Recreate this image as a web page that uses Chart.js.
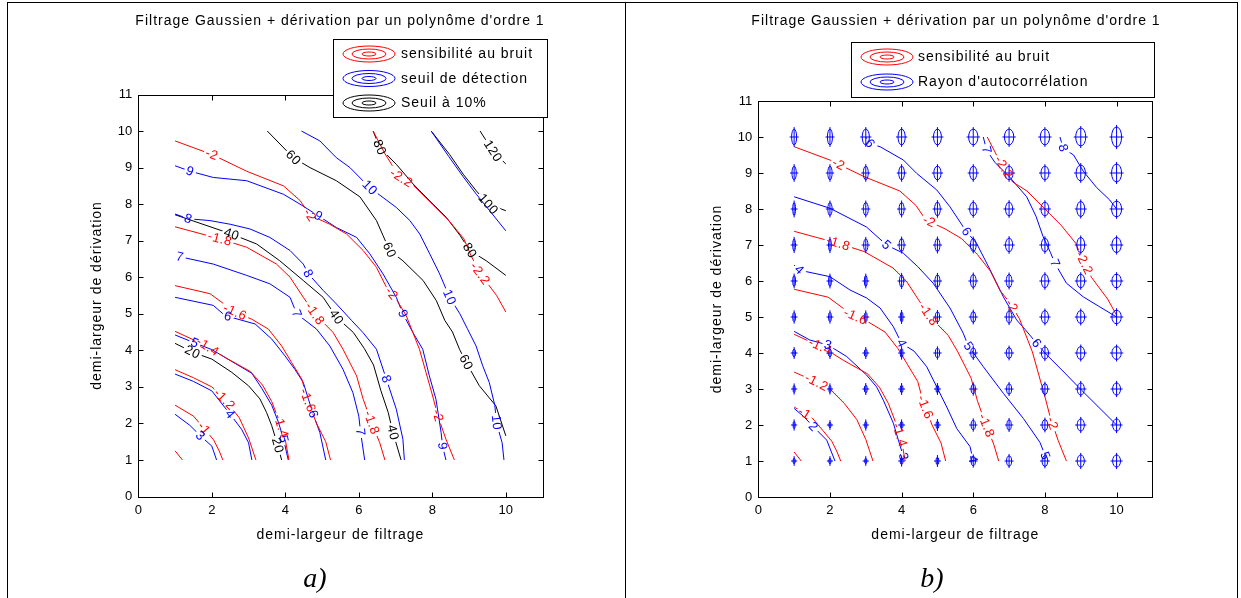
<!DOCTYPE html>
<html><head><meta charset="utf-8">
<script src="https://cdn.jsdelivr.net/npm/chart.js@4.4.1/dist/chart.umd.min.js"></script>
<style>
html,body{margin:0;padding:0;background:#fff;}
body{width:1241px;height:598px;position:relative;overflow:hidden;}
canvas{position:absolute;top:0;}
.rule{position:absolute;background:#000;}
.cap{position:absolute;font-family:"Liberation Serif","Times New Roman",serif;font-style:italic;font-size:28px;transform:translate(-50%,-50%);white-space:nowrap;}
</style></head><body>
<div class="rule" style="left:7px;top:2px;width:1231px;height:1px"></div>
<div class="rule" style="left:7px;top:2px;width:1px;height:596px"></div>
<div class="rule" style="left:625px;top:2px;width:1px;height:596px"></div>
<div class="rule" style="left:1237px;top:2px;width:1px;height:596px"></div>
<canvas id="cA" width="620" height="598" style="left:0"></canvas>
<canvas id="cB" width="621" height="598" style="left:620px"></canvas>
<div class="cap" style="left:315px;top:578px">a)</div>
<div class="cap" style="left:932px;top:578px">b)</div>
<script>
// ---------- ticks ----------
const xTicks = [0, 2, 4, 6, 8, 10];
const yTicks = [0, 1, 2, 3, 4, 5, 6, 7, 8, 9, 10, 11];
const gridX = [1, 2, 3, 4, 5, 6, 7, 8, 9, 10];
const gridY = [1, 2, 3, 4, 5, 6, 7, 8, 9, 10];

// ---------- sensibilité au bruit (red, both plots) ----------
const sensLevels = [-0.8, -1, -1.2, -1.4, -1.6, -1.8, -2, -2.2];
const sensM08 = [[1,1.25],[1.2,1.0]];
const sensM10 = [[1,2.5],[1.5,2.2],[1.8,1.85],[2.05,1.55],[2.2,1.25],[2.3,1.0]];
const sensM12 = [[1,3.47],[1.5,3.25],[2.0,3.0],[2.4,2.6],[2.75,2.15],[3.0,1.6],[3.1,1.3],[3.2,1.0]];
const sensM14 = [[1,4.52],[1.86,4.12],[2.37,3.8],[3.05,3.42],[3.38,3.05],[3.63,2.6],[3.88,1.95],[4.0,1.55],[4.1,1.0]];
const sensM16 = [[1,5.77],[1.95,5.55],[2.63,5.05],[3.09,4.85],[3.54,4.58],[3.9,4.12],[4.17,3.67],[4.45,3.21],[4.6,2.65],[4.85,2.0],[5.1,1.5],[5.23,1.0]];
const sensM18 = [[1,7.38],[2.22,7.05],[2.95,6.82],[3.76,6.36],[4.13,6.0],[4.49,5.45],[4.8,5.0],[5.3,4.49],[5.57,4.03],[5.94,3.3],[6.12,2.66],[6.35,2.02],[6.57,1.47],[6.71,1.0]];
const sensM20 = [[1,9.73],[2.0,9.36],[2.95,8.9],[3.95,8.5],[4.4,8.1],[4.67,7.7],[5.21,7.45],[5.67,7.18],[6.12,6.73],[6.48,6.27],[6.75,5.73],[7.02,5.4],[7.29,4.95],[7.65,4.03],[7.83,3.39],[8.01,2.75],[8.15,2.21],[8.37,1.57],[8.6,1.0]];
const sensM22 = [[6.39,10],[6.7,9.4],[7.1,8.75],[7.5,8.5],[8.0,8.0],[8.45,7.55],[8.86,7.05],[9.05,6.6],[9.3,6.1],[9.75,5.5],[10,5.05]];
const sensLines = [sensM08, sensM10, sensM12, sensM14, sensM16, sensM18, sensM20, sensM22];

// ---------- seuil de détection (blue, plot a) ----------
const detLevels = [3, 4, 5, 6, 7, 8, 9, 10, 11];
const det3 = [[1,2.25],[1.4,1.95],[1.7,1.65],[2.0,1.38],[2.13,1.0]];
const det4 = [[1,3.35],[1.5,3.15],[2.0,2.89],[2.5,2.25],[2.81,1.84],[3.0,1.47],[3.09,1.0]];
const det5 = [[1,4.42],[1.54,4.2],[2.0,4.02],[3.09,3.37],[3.36,2.96],[3.63,2.5],[3.81,2.04],[3.95,1.58],[4.08,1.0]];
const det6 = [[1,5.45],[2.04,5.23],[2.36,4.95],[3.18,4.72],[3.63,4.31],[3.99,3.85],[4.26,3.48],[4.49,3.12],[4.63,2.66],[4.76,2.25],[4.94,1.75],[5.1,1.0]];
const det7 = [[1,6.59],[2.04,6.36],[2.95,6.05],[3.58,5.82],[4.13,5.45],[4.31,5.0],[4.85,4.58],[5.21,4.12],[5.57,3.48],[5.84,2.84],[6.0,2.2],[6.05,1.75],[6.16,1.0]];
const det8 = [[1,7.73],[1.36,7.6],[1.95,7.55],[2.5,7.45],[3.04,7.32],[3.58,7.09],[4.13,6.73],[4.49,6.36],[4.62,6.1],[5.03,5.64],[5.39,5.27],[5.8,4.82],[6.11,4.49],[6.48,4.03],[6.75,3.21],[7.02,2.39],[7.2,1.57],[7.24,1.0]];
const det9 = [[1,9.05],[1.41,8.9],[2.04,8.73],[2.95,8.64],[3.95,8.27],[4.4,8.0],[4.9,7.68],[5.39,7.36],[5.94,7.09],[6.3,6.64],[6.66,6.09],[7.02,5.45],[7.2,5.0],[7.47,4.49],[7.74,4.03],[7.92,3.3],[8.1,2.66],[8.24,1.75],[8.28,1.38],[8.37,1.0]];
const det10 = [[4.44,10],[4.94,9.73],[5.39,9.27],[5.76,9.0],[6.3,8.45],[6.66,8.18],[7.02,7.91],[7.39,7.55],[7.66,7.18],[7.93,6.64],[8.2,6.09],[8.47,5.45],[8.75,5.0],[8.95,4.6],[9.19,4.12],[9.37,3.58],[9.55,3.12],[9.7,2.5],[9.75,2.0],[9.9,1.47],[9.95,1.0]];
const det11 = [[7.97,10],[8.45,9.3],[8.84,8.75],[9.2,8.27],[9.56,7.82],[10,7.27]];
const detLines = [det3, det4, det5, det6, det7, det8, det9, det10, det11];

// ---------- seuil à 10% (black, plot a) ----------
const thrLevels = [20, 40, 60, 80, 100, 120];
const thr20 = [[1,4.19],[1.5,3.94],[2.0,3.76],[2.54,3.4],[3.0,3.03],[3.31,2.67],[3.49,2.3],[3.63,1.94],[3.77,1.48],[3.9,1.0]];
const thr40 = [[1,7.71],[2.54,7.18],[3.22,6.91],[3.85,6.45],[4.49,5.91],[5.03,5.45],[5.39,4.91],[5.85,4.49],[6.15,4.05],[6.4,3.6],[6.6,2.9],[6.8,2.3],[6.93,1.75],[7.15,1.0]];
const thr60 = [[3.51,10],[4.22,9.27],[4.67,9.0],[5.39,8.64],[6.03,8.2],[6.48,7.55],[6.66,7.14],[6.84,6.73],[7.2,6.45],[7.75,5.91],[8.11,5.36],[8.34,4.82],[8.55,4.5],[8.74,4.03],[8.92,3.67],[9.28,3.03],[9.73,2.48],[10,1.66]];
const thr80 = [[6.39,10],[6.57,9.55],[7.02,9.09],[7.48,8.55],[7.93,8.09],[8.38,7.64],[8.75,7.15],[9.02,6.73],[9.47,6.45],[10,6.05]];
const thr100 = [[7.97,10],[8.47,9.36],[8.84,8.82],[9.2,8.36],[9.52,8.0],[10,7.82]];
const thr120 = [[9.3,10],[9.65,9.45],[10,9.1]];
const thrLines = [thr20, thr40, thr60, thr80, thr100, thr120];

// ---------- rayon d'autocorrélation (blue, plot b) ----------
const acLevels = [2, 3, 4, 5, 6, 7, 8];
const ac2 = [[1,2.46],[1.25,2.25],[1.54,1.95],[1.91,1.58],[2.14,1.0]];
const ac3 = [[1,4.6],[1.44,4.36],[1.95,4.22],[2.47,3.9],[3.02,3.39],[3.3,3.06],[3.49,2.69],[3.77,2.05],[3.91,1.58],[4.05,1.12],[4.08,1.0]];
const ac4 = [[1,6.44],[1.15,6.3],[2.0,6.12],[2.56,5.75],[3.02,5.53],[3.4,5.25],[3.77,4.73],[4.0,4.27],[4.35,4.05],[4.7,3.62],[4.98,3.06],[5.26,2.5],[5.54,1.9],[5.91,1.4],[6.0,1.0]];
const ac5 = [[1,8.34],[2.0,8.02],[3.02,7.5],[3.58,7.0],[4.05,6.77],[4.45,6.4],[4.88,5.94],[5.35,5.25],[5.72,4.55],[5.86,4.2],[6.28,3.62],[6.84,2.88],[7.4,2.18],[7.86,1.52],[8.02,1.12],[8.05,1.0]];
const ac6 = [[3.0,10],[3.12,9.82],[3.4,9.73],[4.05,9.36],[4.42,8.99],[4.98,8.53],[5.35,8.06],[5.81,7.37],[6.09,7.05],[6.47,6.31],[6.84,5.56],[7.21,4.92],[7.45,4.65],[7.77,4.27],[8.0,4.0],[8.5,3.5],[9.02,2.97],[10,2.0]];
const ac7 = [[6.28,10],[6.37,9.64],[6.6,9.3],[7.02,8.88],[7.49,8.34],[7.75,7.8],[7.95,7.23],[8.15,6.8],[8.28,6.49],[8.6,5.94],[9.07,5.56],[9.5,5.3],[10,5.0]];
const ac8 = [[8.42,10],[8.51,9.69],[8.8,9.5],[9.07,9.05],[9.44,8.6],[9.81,8.25],[10,8.0]];
const acLines = [ac2, ac3, ac4, ac5, ac6, ac7, ac8];

// autocorrelation radii at grid points (data units), rows y=1..10, columns x=1..10
const autoRx = [
 [0.03,0.03,0.03,0.04,0.04,0.06,0.07,0.08,0.10,0.11],
 [0.03,0.03,0.03,0.04,0.04,0.06,0.06,0.08,0.10,0.11],
 [0.03,0.03,0.04,0.04,0.04,0.06,0.07,0.08,0.10,0.11],
 [0.04,0.04,0.04,0.04,0.06,0.07,0.08,0.10,0.11,0.13],
 [0.04,0.04,0.04,0.04,0.06,0.07,0.08,0.10,0.11,0.13],
 [0.04,0.04,0.04,0.06,0.07,0.08,0.08,0.10,0.11,0.13],
 [0.04,0.04,0.06,0.07,0.07,0.08,0.10,0.10,0.11,0.13],
 [0.04,0.06,0.07,0.07,0.08,0.10,0.10,0.11,0.11,0.14],
 [0.06,0.06,0.07,0.08,0.10,0.10,0.11,0.11,0.13,0.14],
 [0.07,0.07,0.10,0.10,0.11,0.13,0.13,0.13,0.14,0.14]];
const autoRy = [
 [0.08,0.08,0.08,0.10,0.11,0.13,0.14,0.15,0.17,0.17],
 [0.10,0.08,0.10,0.10,0.11,0.13,0.14,0.15,0.17,0.17],
 [0.10,0.10,0.11,0.11,0.11,0.13,0.14,0.15,0.17,0.17],
 [0.11,0.11,0.11,0.13,0.13,0.14,0.15,0.17,0.18,0.18],
 [0.13,0.13,0.13,0.14,0.14,0.15,0.17,0.18,0.18,0.19],
 [0.15,0.15,0.15,0.17,0.17,0.18,0.18,0.19,0.19,0.19],
 [0.17,0.17,0.17,0.18,0.18,0.18,0.19,0.19,0.21,0.21],
 [0.18,0.18,0.18,0.18,0.19,0.19,0.19,0.19,0.21,0.22],
 [0.19,0.19,0.19,0.19,0.19,0.19,0.19,0.19,0.22,0.25],
 [0.22,0.22,0.22,0.22,0.22,0.22,0.22,0.22,0.25,0.28]];

// ---------- contour label positions [level, x, y] ----------
const sensLabelsA = [[-1,1.77,1.84],[-1.2,2.22,2.53],[-1.4,1.9,4.12],[-1.4,3.8,1.9],[-1.6,2.63,5.04],[-1.6,4.58,2.62],[-1.8,2.22,7.05],[-1.8,4.8,5.0],[-1.8,6.35,2.02],[-2,2.0,9.36],[-2,4.67,7.7],[-2,6.89,5.55],[-2,8.15,2.21],[-2.2,7.11,8.64],[-2.2,9.29,6.09]];
const detLabelsA = [[3,1.63,1.6],[4,2.5,2.25],[5,1.54,4.21],[5,3.95,1.57],[6,2.45,4.95],[6,4.76,2.25],[7,1.12,6.5],[7,4.31,5.0],[7,5.95,1.75],[8,1.36,7.6],[8,4.62,6.1],[8,6.75,3.21],[9,1.41,8.9],[9,4.9,7.68],[9,7.2,5.0],[9,8.28,1.38],[10,6.3,8.45],[10,8.47,5.45],[10,9.69,2.02]];
const thrLabelsA = [[20,1.45,3.9],[20,3.72,1.38],[40,2.54,7.18],[40,5.39,4.91],[40,6.93,1.75],[60,4.22,9.27],[60,6.8,6.73],[60,8.92,3.67],[80,6.57,9.55],[80,9.02,6.73],[100,9.52,8.0],[120,9.65,9.45]];
const sensLabelsB = [[-1,1.21,2.19],[-1.2,1.54,3.02],[-1.4,1.68,4.08],[-1.4,3.81,1.68],[-1.6,2.7,4.98],[-1.6,4.7,2.51],[-1.8,2.19,6.91],[-1.8,4.74,5.06],[-1.8,6.28,1.95],[-2,2.23,9.22],[-2,4.79,7.69],[-2,6.88,5.19],[-2,8.23,2.05],[-2.2,6.89,9.18],[-2.2,9.07,6.49]];
const acLabelsB = [[2,1.54,1.95],[3,1.95,4.22],[3,4.05,1.12],[4,1.14,6.3],[4,4.0,4.27],[4,6.0,1.05],[5,3.58,7.0],[5,5.86,4.18],[5,8.02,1.15],[6,3.12,9.82],[6,5.81,7.37],[6,7.77,4.27],[7,6.37,9.64],[7,8.28,6.49],[8,8.51,9.69]];

// ---------- texts ----------
const titleText = "Filtrage Gaussien + dérivation par un polynôme d'ordre 1";
const xTitle = "demi-largeur de filtrage";
const yTitle = "demi-largeur de dérivation";
const legendA = [["sensibilité au bruit","#ff0000"],["seuil de détection","#0000ff"],["Seuil à 10%","#000000"]];
const legendB = [["sensibilité au bruit","#ff0000"],["Rayon d'autocorrélation","#0000ff"]];

// ================= drawing =================
const FONT = '"Liberation Sans", Arial, Helvetica, sans-serif';
const LABEL_FONT = '13px ' + FONT;

function mkDatasets(lines, levels, labels, color) {
  return lines.map((pts, i) => ({
    data: pts.map(p => ({x: p[0], y: p[1]})),
    borderColor: color, backgroundColor: color,
    borderWidth: 1, showLine: true, pointRadius: 0, pointHoverRadius: 0, tension: 0, fill: false,
    clabels: labels.filter(l => l[0] === levels[i]).map(l => ({x: l[1], y: l[2], t: String(levels[i])}))
  }));
}

function labelGeom(chart, ds) {
  const xs = chart.scales.x, ys = chart.scales.y, ctx = chart.ctx;
  ctx.save(); ctx.font = LABEL_FONT; ctx.letterSpacing = '0.5px';
  const pix = ds.data.map(p => [xs.getPixelForValue(p.x), ys.getPixelForValue(p.y)]);
  const out = ds.clabels.map(l => {
    const px = xs.getPixelForValue(l.x), py = ys.getPixelForValue(l.y);
    let best = null;
    for (let i = 0; i < pix.length - 1; i++) {
      const [x1, y1] = pix[i], [x2, y2] = pix[i + 1];
      const dx = x2 - x1, dy = y2 - y1, L2 = dx * dx + dy * dy || 1;
      let t = ((px - x1) * dx + (py - y1) * dy) / L2; t = Math.max(0, Math.min(1, t));
      const qx = x1 + t * dx, qy = y1 + t * dy, d = (qx - px) ** 2 + (qy - py) ** 2;
      if (!best || d < best.d) best = {d, qx, qy, a: Math.atan2(dy, dx)};
    }
    let a = best.a;
    if (a > Math.PI / 2) a -= Math.PI;
    if (a < -Math.PI / 2) a += Math.PI;
    const w = ctx.measureText(l.t).width;
    return {x: best.qx, y: best.qy, a, w: w + 4, h: 12, t: l.t};
  });
  ctx.restore();
  return out;
}

function makeDecor(opts) {
  return {
    id: 'decor',
    beforeDatasetDraw(chart, args) {
      const ds = chart.data.datasets[args.index];
      const ctx = chart.ctx;
      ctx.save();
      const rects = labelGeom(chart, ds);
      if (rects.length) {
        ctx.beginPath();
        ctx.rect(0, 0, chart.width, chart.height);
        rects.forEach(r => {
          const c = Math.cos(r.a), s = Math.sin(r.a);
          [[-r.w/2,-r.h/2],[r.w/2,-r.h/2],[r.w/2,r.h/2],[-r.w/2,r.h/2]].forEach(([u, v], i) => {
            const X = r.x + u * c - v * s, Y = r.y + u * s + v * c;
            if (i) ctx.lineTo(X, Y); else ctx.moveTo(X, Y);
          });
          ctx.closePath();
        });
        ctx.clip('evenodd');
      }
    },
    afterDatasetDraw(chart) { chart.ctx.restore(); },
    afterDraw(chart) {
      const ctx = chart.ctx, ca = chart.chartArea, xs = chart.scales.x, ys = chart.scales.y;
      // ellipse glyphs (plot b)
      if (opts.glyphs) {
        ctx.save();
        ctx.strokeStyle = '#0000ff'; ctx.lineWidth = 1;
        gridY.forEach((gy, r) => gridX.forEach((gx, c) => {
          const cx = xs.getPixelForValue(gx), cy = ys.getPixelForValue(gy);
          const rx = Math.max(1, xs.getPixelForValue(gx + autoRx[r][c]) - cx);
          const ry = Math.max(1, cy - ys.getPixelForValue(gy + autoRy[r][c]));
          ctx.beginPath(); ctx.ellipse(cx, cy, rx, ry, 0, 0, Math.PI * 2); ctx.stroke();
          ctx.beginPath();
          ctx.moveTo(cx, cy - ry - 2); ctx.lineTo(cx, cy + ry + 2);
          ctx.moveTo(cx - rx - 2, cy); ctx.lineTo(cx + rx + 2, cy);
          ctx.stroke();
        }));
        ctx.restore();
      }
      // contour labels
      ctx.save();
      ctx.font = LABEL_FONT; ctx.letterSpacing = '0.5px'; ctx.textAlign = 'center'; ctx.textBaseline = 'middle';
      chart.data.datasets.forEach(ds => {
        labelGeom(chart, ds).forEach(r => {
          ctx.save(); ctx.translate(r.x, r.y); ctx.rotate(r.a);
          ctx.fillStyle = ds.borderColor; ctx.fillText(r.t, 0, 0.5);
          ctx.restore();
        });
      });
      ctx.restore();
      // frame + inward ticks
      ctx.save();
      ctx.strokeStyle = '#000'; ctx.lineWidth = 1;
      const L = Math.round(ca.left) + 0.5, R = Math.round(ca.right) + 0.5, T = Math.round(ca.top) + 0.5, B = Math.round(ca.bottom) + 0.5;
      ctx.strokeRect(L, T, R - L, B - T);
      ctx.beginPath();
      xTicks.forEach(v => { const p = Math.round(xs.getPixelForValue(v)) + 0.5; ctx.moveTo(p, B); ctx.lineTo(p, B - 5); ctx.moveTo(p, T); ctx.lineTo(p, T + 5); });
      yTicks.forEach(v => { const p = Math.round(ys.getPixelForValue(v)) + 0.5; ctx.moveTo(L, p); ctx.lineTo(L + 5, p); ctx.moveTo(R, p); ctx.lineTo(R - 5, p); });
      ctx.stroke();
      // titles
      ctx.fillStyle = '#000'; ctx.textAlign = 'center'; ctx.textBaseline = 'middle';
      ctx.font = '14px ' + FONT; ctx.letterSpacing = '1px';
      ctx.fillText(titleText, opts.titleX, 21);
      ctx.fillText(xTitle, (ca.left + ca.right) / 2, 535);
      ctx.save(); ctx.translate(97, (ca.top + ca.bottom) / 2); ctx.rotate(-Math.PI / 2);
      ctx.fillText(yTitle, 0, 0); ctx.restore();
      // legend
      const lg = opts.legend;
      ctx.fillStyle = '#fff'; ctx.fillRect(lg.x, lg.y, lg.w, lg.h);
      ctx.strokeStyle = '#000'; ctx.strokeRect(lg.x + 0.5, lg.y + 0.5, lg.w, lg.h);
      ctx.textAlign = 'left';
      lg.items.forEach(([txt, col], i) => {
        const cy = lg.firstY + i * lg.dy;
        ctx.strokeStyle = col;
        [[26, 8], [17, 5], [7, 2]].forEach(([ax, ay]) => { ctx.beginPath(); ctx.ellipse(lg.iconX, cy, ax, ay, 0, 0, Math.PI * 2); ctx.stroke(); });
        ctx.fillStyle = '#000'; ctx.fillText(txt, lg.textX, cy + 0.5);
      });
      ctx.restore();
    }
  };
}

function makeChart(id, datasets, area, decor) {
  return new Chart(document.getElementById(id), {
    type: 'scatter',
    data: {datasets},
    options: {
      responsive: false, animation: false, devicePixelRatio: 1,
      events: [],
      layout: {padding: {left: 0, top: area.top, right: area.right, bottom: 0}},
      plugins: {legend: {display: false}, tooltip: {enabled: false}, title: {display: false}},
      elements: {point: {radius: 0}, line: {borderWidth: 1, tension: 0}},
      scales: {
        x: {type: 'linear', min: 0, max: 11,
            afterBuildTicks: s => { s.ticks = xTicks.map(v => ({value: v})); },
            afterFit: s => { s.height = area.xh; },
            grid: {display: false, drawTicks: false}, border: {display: false},
            ticks: {padding: 6, color: '#000', font: {family: FONT, size: 13}, maxRotation: 0}},
        y: {type: 'linear', min: 0, max: 11,
            afterBuildTicks: s => { s.ticks = yTicks.map(v => ({value: v})); },
            afterFit: s => { s.width = area.yw; },
            grid: {display: false, drawTicks: false}, border: {display: false},
            ticks: {padding: 6, color: '#000', font: {family: FONT, size: 13}}}
      }
    },
    plugins: [makeDecor(decor)]
  });
}

const dsA = [].concat(
  mkDatasets(sensLines, sensLevels, sensLabelsA, '#ff0000'),
  mkDatasets(detLines, detLevels, detLabelsA, '#0000ff'),
  mkDatasets(thrLines, thrLevels, thrLabelsA, '#000000'));
const dsB = [].concat(
  mkDatasets(sensLines, sensLevels, sensLabelsB, '#ff0000'),
  mkDatasets(acLines, acLevels, acLabelsB, '#0000ff'));

makeChart('cA', dsA, {top: 94.5, right: 77.45, xh: 101.5, yw: 138.3},
  {titleX: 340, legend: {x: 333, y: 39, w: 214, h: 78, iconX: 369, textX: 401, firstY: 54, dy: 24.5, items: legendA}});
makeChart('cB', dsB, {top: 101, right: 88.6, xh: 101, yw: 138.3},
  {titleX: 336, glyphs: true, legend: {x: 231, y: 42, w: 303, h: 55, iconX: 267, textX: 298, firstY: 57, dy: 25, items: legendB}});
</script>
</body></html>
